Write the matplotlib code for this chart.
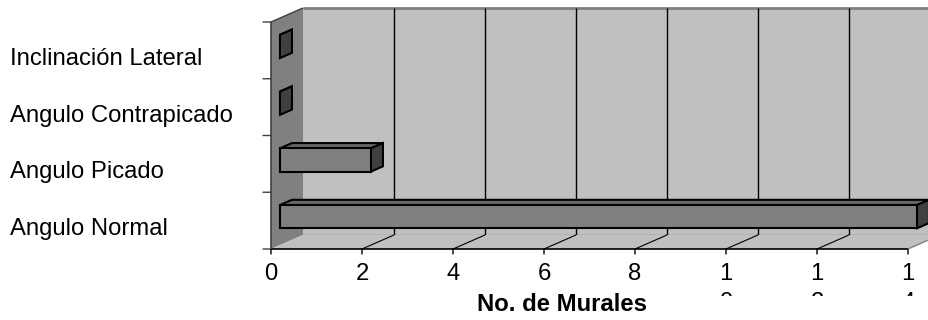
import matplotlib
matplotlib.use('Agg')
import matplotlib.pyplot as plt
import matplotlib.transforms as mtransforms
from matplotlib.patches import Polygon

plt.rcParams['font.family'] = ['Liberation Sans', 'DejaVu Sans']

# Datos
categorias = ['Angulo Normal', 'Angulo Picado', 'Angulo Contrapicado', 'Inclinación Lateral']
murales = [14, 2, 0, 0]
ticks_x = [0, 2, 4, 6, 8, 10, 12, 14]
xlabel = 'No. de Murales'

# Geometria del grafico 3D (proyeccion oblicua)
XMAX = 14
NCAT = len(categorias)
DX, DY = 0.703, 0.247       # desplazamiento de profundidad en unidades de datos
BAR_Z0, BAR_D = 0.28, 0.375  # posicion y grosor de la barra en profundidad
BAR_H = 0.205                # media altura de la barra
FS = 17.2

W, H = 929, 320
fig = plt.figure(figsize=(W / 100, H / 100), dpi=100)
ax = fig.add_axes([271 / W, 71 / H, 637 / W, 227 / H])
ax.set_xlim(0, XMAX)
ax.set_ylim(0, NCAT)
ax.axis('off')


def poly(pts, fc, ec='none', lw=1.0, z=1):
    ax.add_patch(Polygon(pts, closed=True, facecolor=fc, edgecolor=ec,
                         linewidth=lw, clip_on=False, zorder=z, joinstyle='miter'))


def line(xs, ys, c, lw=1.0, z=2):
    ax.plot(xs, ys, color=c, linewidth=lw, clip_on=False, zorder=z,
            solid_capstyle='butt')


def tick(xy, dxy, c):
    ax.annotate('', xy=xy, xytext=dxy, textcoords='offset pixels',
                arrowprops=dict(arrowstyle='-', color=c, lw=1, shrinkA=0, shrinkB=0))


# pared del fondo
poly([(DX, DY), (XMAX + DX, DY), (XMAX + DX, NCAT + DY), (DX, NCAT + DY)], '#C0C0C0', z=1)
line([DX, XMAX + DX], [NCAT + DY, NCAT + DY], '#808080', lw=2, z=2)
line([DX, XMAX + DX], [DY, DY], '#808080', lw=1, z=2)
# lineas de division verticales
for v in ticks_x[1:]:
    line([v + DX, v + DX], [DY, NCAT + DY], 'black', lw=1, z=2)

# pared izquierda
poly([(0, 0), (DX, DY), (DX, NCAT + DY), (0, NCAT)], '#808080', z=3)
line([0, DX], [NCAT, NCAT + DY], '#404040', lw=1, z=4)

# piso
poly([(0, 0), (XMAX, 0), (XMAX + DX, DY), (DX, DY)], '#C0C0C0', z=3)
line([XMAX, XMAX + DX], [0, DY], '#808080', lw=1, z=4)
for v in ticks_x[1:-1]:
    line([v, v + DX], [0, DY], 'black', lw=0.8, z=4)

# ejes y marcas
line([0, XMAX], [0, 0], 'black', lw=1.2, z=5)
line([0, 0], [0, NCAT], '#404040', lw=1.2, z=5)
for i in range(NCAT + 1):
    tick((0, i), (-8, 0), '#404040')
for v in ticks_x:
    tick((v, 0), (0, -5), 'black')

# barras
for i, val in enumerate(murales):
    c = i + 0.5
    x0 = BAR_Z0 * DX
    x1 = val + BAR_Z0 * DX
    yb = c - BAR_H + BAR_Z0 * DY
    yt = c + BAR_H + BAR_Z0 * DY
    ddx, ddy = BAR_D * DX, BAR_D * DY
    poly([(x0, yt), (x1, yt), (x1 + ddx, yt + ddy), (x0 + ddx, yt + ddy)],
         '#666666', ec='black', lw=1.5, z=6)
    poly([(x1, yb), (x1, yt), (x1 + ddx, yt + ddy), (x1 + ddx, yb + ddy)],
         '#404040', ec='black', lw=1.5, z=6)
    if val > 0:
        poly([(x0, yb), (x1, yb), (x1, yt), (x0, yt)], '#808080', ec='black', lw=1.5, z=7)

# etiquetas de categoria
tr_cat = mtransforms.blended_transform_factory(
    fig.transFigure, ax.transData + mtransforms.ScaledTranslation(0, -14.5 / 100, fig.dpi_scale_trans))
for i, nombre in enumerate(categorias):
    ax.text(10 / W, i + 0.5, nombre, transform=tr_cat, fontsize=FS,
            ha='left', va='baseline')

# etiquetas del eje x (el texto se corta en dos lineas)
clip = mtransforms.Bbox.from_extents(0, 24, W, H)
for v in ticks_x:
    s = str(v)
    ax.annotate(s[0], xy=(v, 0), xytext=(0, -14), textcoords='offset pixels',
                ha='center', va='top', fontsize=FS)
    if len(s) > 1:
        t2 = ax.annotate(s[1:], xy=(v, 0), xytext=(0, -43), textcoords='offset pixels',
                         ha='center', va='top', fontsize=FS)
        t2.set_clip_box(mtransforms.TransformedBbox(clip, mtransforms.IdentityTransform()))
        t2.set_clip_on(True)

fig.text(562 / W, 9 / H, xlabel, ha='center', va='baseline', fontsize=FS,
         fontweight='bold')

fig.savefig('out.png', dpi=100)
